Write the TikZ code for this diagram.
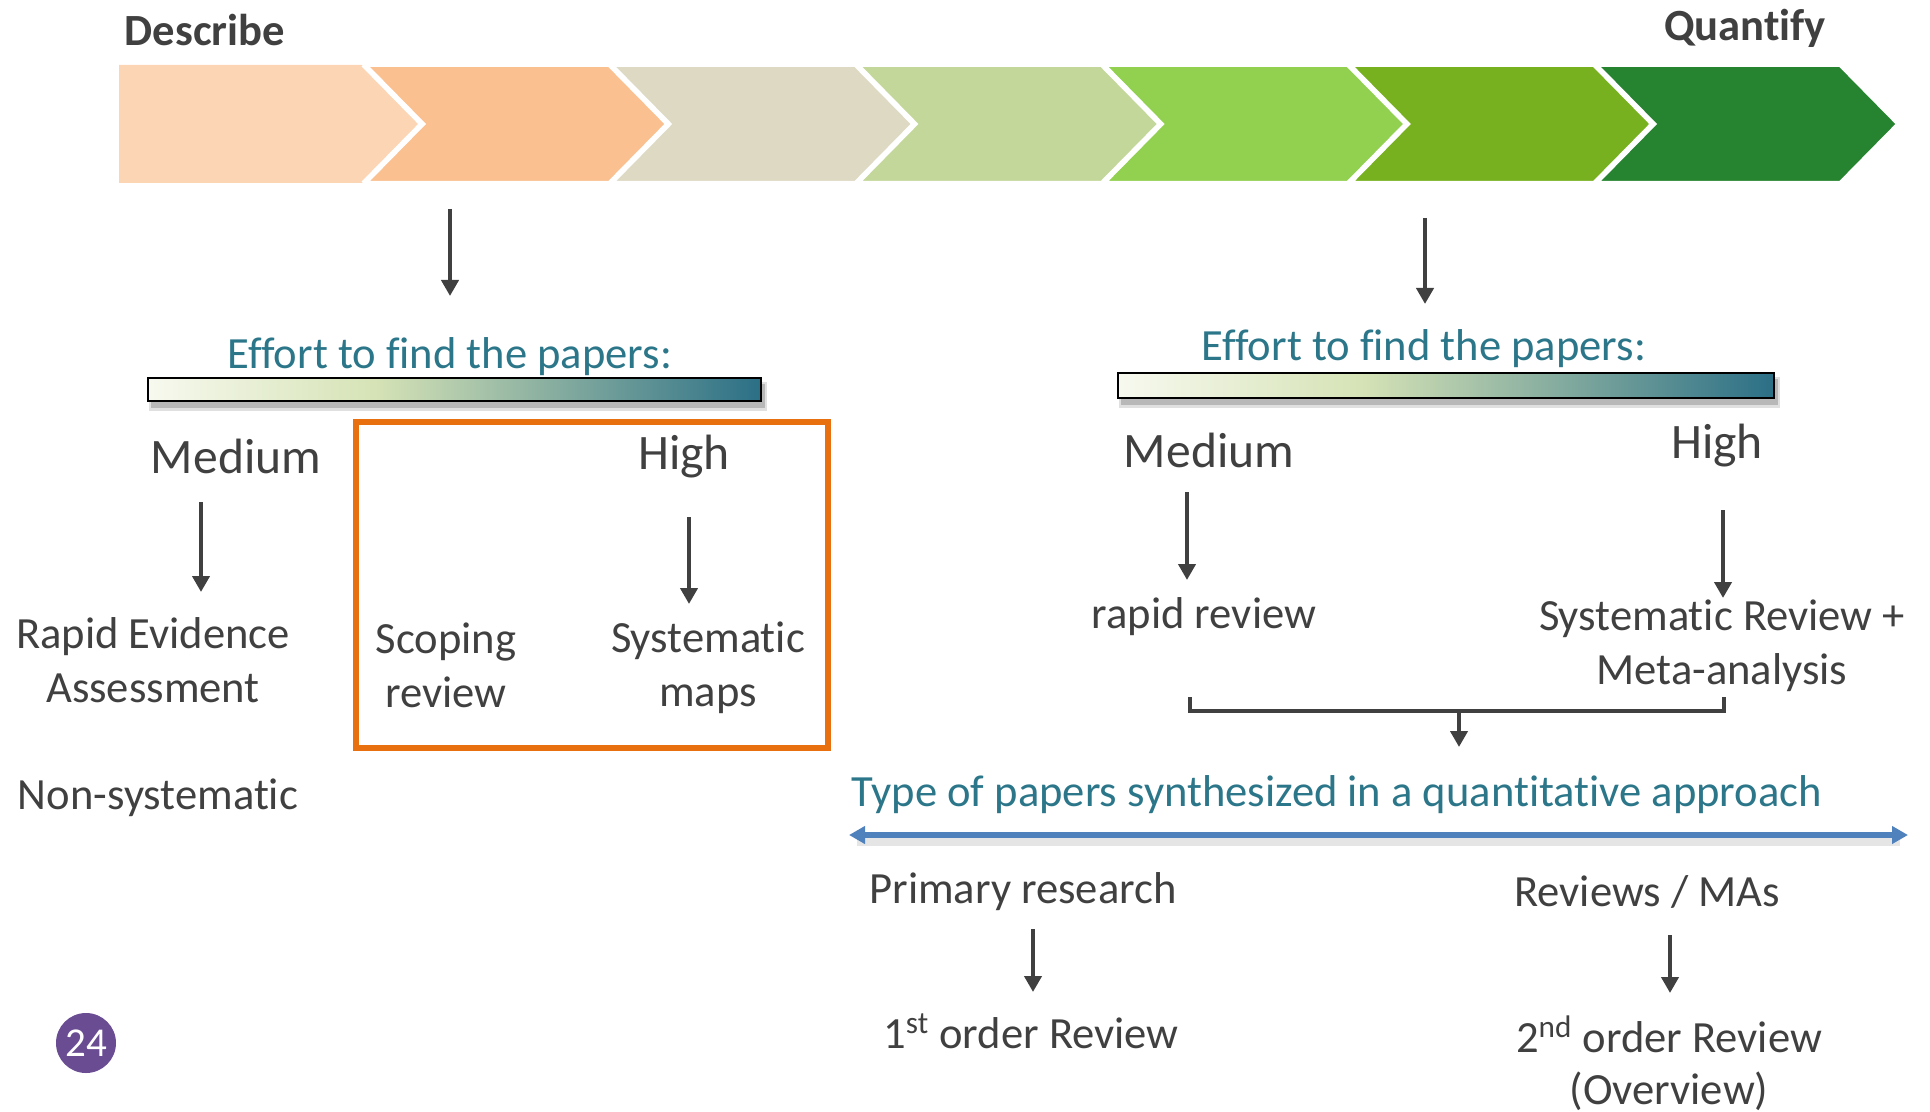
\documentclass[tikz,border=0pt]{standalone}
\usepackage{fontspec}
\setmainfont{Carlito}[Ligatures=NoCommon]
\usetikzlibrary{arrows.meta,calc}
\definecolor{txt}{HTML}{404040}
\definecolor{teal}{HTML}{2C768A}
\definecolor{chA}{HTML}{FCD5B5}
\definecolor{chB}{HTML}{FAC090}
\definecolor{chC}{HTML}{DDD9C3}
\definecolor{chD}{HTML}{C4D79B}
\definecolor{chE}{HTML}{92D050}
\definecolor{chF}{HTML}{77B11F}
\definecolor{chG}{HTML}{268431}
\definecolor{gA}{HTML}{F7F9EF}
\definecolor{gB}{HTML}{D6E3B6}
\definecolor{gC}{HTML}{2B6F86}
\definecolor{boxor}{HTML}{E8700F}
\definecolor{blu}{HTML}{4F81BD}
\definecolor{purp}{HTML}{6A4C93}
\newcommand{\fsbody}{\fontsize{22.3}{27}\selectfont}
\newcommand{\fsbig}{\fontsize{24.8}{30}\selectfont}
\begin{document}
\begin{tikzpicture}[x=0.5pt,y=-0.5pt,
  lbl/.style={text=txt, font=\fsbody, align=center, inner sep=0pt},
  big/.style={text=txt, font=\fsbig, inner sep=0pt},
  ttl/.style={text=teal, font=\fsbody, inner sep=0pt},
  arr/.style={draw=txt, line width=2.4pt, -{Triangle[length=8pt,width=8.5pt]}},
  brk/.style={draw=txt, line width=1.8pt},
  chev/.style={draw=white, line width=2pt}]
\useasboundingbox (0,0) rectangle (1930,1112);

% chevrons
\foreach \c [count=\i from 0] in {chA,chB,chC,chD,chE,chF,chG} {
  \pgfmathsetmacro\L{119+246.2*\i}
  \ifnum\i=0
    \fill[\c] (\L,65) -- ({\L+244},65) -- ({\L+302},124) -- ({\L+244},183) -- (\L,183) -- cycle;
    \draw[chev] ({\L+244},65) -- ({\L+302},124) -- ({\L+244},183);
  \else
    \filldraw[fill=\c, chev] (\L,65) -- ({\L+244},65) -- ({\L+302},124) -- ({\L+244},183) -- (\L,183) -- ({\L+58},124) -- cycle;
  \fi
}
\fill[white] (100,62) rectangle (119,186);

\node[text=txt, font=\bfseries\fsbody, inner sep=0pt] (describe) at (205,30) {Describe};
\node[text=txt, font=\bfseries\fsbody, inner sep=0pt] (quantify) at (1745,28) {Quantify};

% arrows from chevrons
\coordinate (c2) at (450,209);
\coordinate (c2e) at (450,296);
\coordinate (c6) at (1425,218);
\coordinate (c6e) at (1425,304);
\node[ttl] (effL) at (450,357) {Effort to find the papers:};
\node[ttl] (effR) at (1424,349) {Effort to find the papers:};
\draw[arr] (c2) -- (c2e);
\draw[arr] (c6) -- (c6e);

% gradient bars
\foreach \xa/\xb/\ya/\yb in {148/761/378/401, 1118/1774/373/398} {
  \fill[black, opacity=0.18] ({\xa+3},{\ya+6}) rectangle ({\xb+4},{\yb+7});
  \fill[black, opacity=0.12] ({\xa+1},{\ya+4}) rectangle ({\xb+6},{\yb+10});
  \pgfmathsetmacro\xm{\xa+0.37*(\xb-\xa)}
  \shade[left color=gA, right color=gB] (\xa,\ya) rectangle (\xm,\yb);
  \shade[left color=gB, right color=gC] (\xm,\ya) rectangle (\xb,\yb);
  \draw[black, line width=1.3pt] (\xa,\ya) rectangle (\xb,\yb);
}

% left part
\node[big] (medL) at (236,456) {Medium};
\node[big] (highL) at (684,457) {High};
\draw[boxor, line width=3pt] (356,422) rectangle (828,748);
\node[lbl] (rea) at (153,660) {Rapid Evidence\\Assessment};
\node[lbl] (scop) at (446,665) {Scoping\\review};
\node[lbl] (smap) at (708,668) {Systematic\\maps};
\node[lbl] (nonsys) at (158,798) {Non-systematic};
\coordinate (aL1s) at (201,502);
\coordinate (aL1e) at (201,592);
\coordinate (aL2s) at (689,517);
\coordinate (aL2e) at (689,604);
\draw[arr] (aL1s) -- (aL1e);
\draw[arr] (aL2s) -- (aL2e);

% right part
\node[big] (medR) at (1209,450) {Medium};
\node[big] (highR) at (1717,446) {High};
\node[lbl] (rr) at (1204,617) {rapid review};
\node[lbl] (srma) at (1722,646) {Systematic Review +\\Meta-analysis};
\coordinate (aR1s) at (1187,492);
\coordinate (aR1e) at (1187,580);
\coordinate (aR2s) at (1723,510);
\coordinate (aR2e) at (1723,598);
\draw[arr] (aR1s) -- (aR1e);
\draw[arr] (aR2s) -- (aR2e);

% bracket
\coordinate (bl) at (1190,697);
\coordinate (br) at (1724,697);
\coordinate (bm) at (1459,711);
\draw[brk] (bl) -- (1190,711) -- (1724,711) -- (br);
\node[ttl] (type) at (1337,795) {Type of papers synthesized in a quantitative approach};
\coordinate (bme) at (1459,747);
\draw[arr] (bm) -- (bme);

% blue double arrow
\coordinate (dl) at (849,835);
\coordinate (dr) at (1908,835);
\draw[black, opacity=0.10, line width=4.5pt] ($(dl)+(8,6)$) -- ($(dr)+(-8,6)$);
\draw[blu, line width=3pt, {Triangle[length=8pt,width=8.5pt]}-{Triangle[length=8pt,width=8.5pt]}] (dl) -- (dr);

\node[lbl] (prim) at (1023,892) {Primary research};
\node[lbl] (revs) at (1647,892) {Reviews / MAs};
\node[lbl] (first) at (1031,1031) {1\textsuperscript{st} order Review};
\node[lbl, font=\fontsize{22.3}{26}\selectfont] (second) at (1669,1063) {2\textsuperscript{nd} order Review\\(Overview)};
\coordinate (p1) at (1033,929);
\coordinate (p2) at (1033,992);
\coordinate (q1) at (1670,935);
\coordinate (q2) at (1670,993);
\draw[arr] (p1) -- (p2);
\draw[arr] (q1) -- (q2);

% badge
\node[circle, fill=purp, minimum size=30pt, inner sep=0pt, text=white, font=\fontsize{20.5}{22}\selectfont] (badge) at (86,1043) {24};
\end{tikzpicture}
\end{document}
